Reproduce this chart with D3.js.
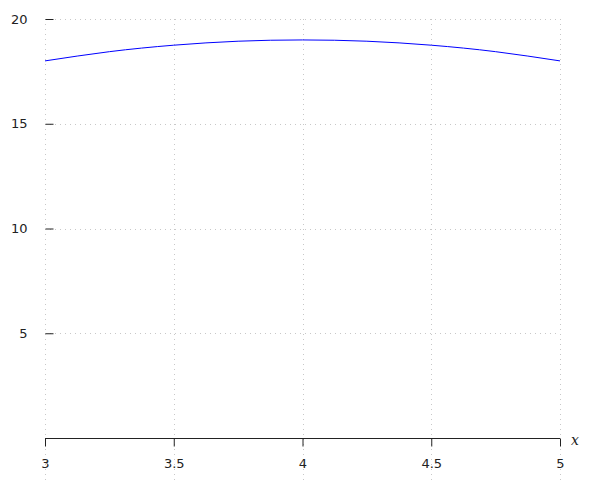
<!DOCTYPE html>
<html>
<head>
<meta charset="utf-8">
<script src="https://cdn.jsdelivr.net/npm/d3@7"></script>
<style>
  body { margin: 0; background: #fff; }
  text { font-family: "DejaVu Sans", sans-serif; }
</style>
</head>
<body>
<script>
// values
var xValues = [3, 3.25, 3.5, 3.75, 4, 4.25, 4.5, 4.75, 5];
var yValues = [18, 18.44, 18.75, 18.94, 19, 18.94, 18.75, 18.44, 18];
var xTicks = [3, 3.5, 4, 4.5, 5];
var yTicks = [5, 10, 15, 20];

var width = 600, height = 500;

var svg = d3.select("body").append("svg")
    .attr("width", width)
    .attr("height", height);

var x = d3.scaleLinear().domain([3, 5]).range([45, 560]);
var y = d3.scaleLinear().domain([0, 20]).range([438, 19]);

// grid
var grid = svg.append("g")
    .attr("stroke", "#c8c8c8")
    .attr("stroke-width", 1)
    .attr("stroke-dasharray", "1,4");

grid.selectAll(".vgrid")
    .data(xTicks)
    .enter().append("line")
    .attr("x1", function(d){ return Math.round(x(d)) + 0.5; })
    .attr("x2", function(d){ return Math.round(x(d)) + 0.5; })
    .attr("y1", y(20))
    .attr("y2", 481);

grid.selectAll(".hgrid")
    .data(yTicks)
    .enter().append("line")
    .attr("x1", x(3))
    .attr("x2", x(5))
    .attr("y1", function(d){ return Math.round(y(d)) + 0.5; })
    .attr("y2", function(d){ return Math.round(y(d)) + 0.5; });

// x axis
var xAxis = svg.append("g")
    .attr("transform", "translate(0," + (Math.round(y(0)) + 0.5) + ")")
    .call(d3.axisBottom(x).tickValues(xTicks).tickSize(8).tickPadding(12)
        .tickFormat(d3.format("")));
xAxis.select(".domain").attr("stroke", "#222").attr("d", "M" + x(3) + ",0H" + x(5));
xAxis.selectAll(".tick line").attr("stroke", "#222");
xAxis.selectAll("text").attr("fill", "#222").style("font-size", "13px");

// y axis (ticks only, pointing inward)
var yAxis = svg.append("g")
    .attr("transform", "translate(" + (Math.round(x(3)) + 0.5) + ",0)")
    .call(d3.axisLeft(y).tickValues(yTicks).tickSize(-8).tickPadding(18));
yAxis.select(".domain").remove();
yAxis.selectAll(".tick line").attr("stroke", "#222");
yAxis.selectAll("text").attr("fill", "#222").style("font-size", "13px");

svg.append("text")
    .attr("x", 571)
    .attr("y", 445)
    .style("font-family", "'DejaVu Serif', serif")
    .style("font-style", "italic")
    .style("font-size", "14px")
    .attr("fill", "#222")
    .text("x");

// curve
var pts = xValues.map(function(d, i){ return [d, yValues[i]]; });
var line = d3.line()
    .x(function(d){ return x(d[0]); })
    .y(function(d){ return y(d[1]); })
    .curve(d3.curveNatural);

svg.append("path")
    .datum(pts)
    .attr("fill", "none")
    .attr("stroke", "#0000ff")
    .attr("stroke-width", 1)
    .attr("d", line);
</script>
</body>
</html>
